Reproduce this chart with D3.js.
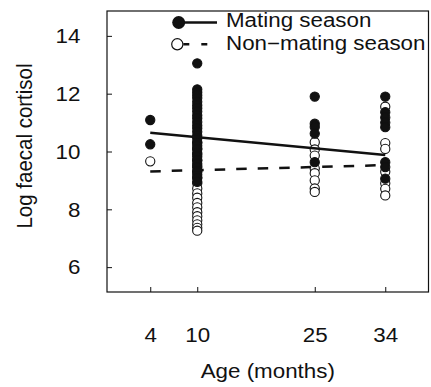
<!DOCTYPE html>
<html>
<head>
<meta charset="utf-8">
<script src="https://cdn.jsdelivr.net/npm/d3@7"></script>
<style>
  html, body { margin: 0; padding: 0; background: #fff; }
  text { font-family: "Liberation Sans", Arial, Helvetica, sans-serif; fill: #111; }
</style>
</head>
<body>
<svg id="chart" width="431" height="387"></svg>
<script>
// ---- data ----
const xTicks = [4, 10, 25, 34];
const yTicks = [6, 8, 10, 12, 14];
const xLabel = "Age (months)";
const yLabel = "Log faecal cortisol";
const legendLabels = ["Mating season", "Non\u2212mating season"];

// Mating season (filled circles)
const matingAge = [4, 4,
  10, 10, 10, 10, 10, 10, 10, 10, 10, 10, 10, 10, 10, 10, 10, 10, 10, 10, 10, 10, 10, 10, 10, 10, 10, 10, 10, 10, 10,
  25, 25, 25, 25, 25,
  34, 34, 34, 34, 34, 34, 34, 34];
const matingValue = [11.09, 10.25,
  13.05, 12.15, 12.05, 11.95, 11.85, 11.72, 11.6, 11.5, 11.38, 11.25, 11.15, 11.02, 10.9, 10.8, 10.68, 10.55, 10.45, 10.32, 10.2, 10.08, 9.95, 9.82, 9.7, 9.58, 9.45, 9.32, 9.2, 9.08, 8.95,
  11.9, 10.96, 10.85, 10.62, 9.63,
  11.9, 11.36, 11.18, 11.0, 10.84, 9.63, 9.46, 9.06];

// Non-mating season (open circles)
const nonMatingAge = [4,
  10, 10, 10, 10, 10, 10, 10, 10, 10, 10, 10, 10, 10, 10, 10, 10, 10, 10, 10,
  25, 25, 25, 25, 25, 25, 25, 25,
  34, 34, 34, 34, 34, 34, 34];
const nonMatingValue = [9.66,
  10.3, 10.1, 9.9, 9.7, 9.5, 9.3, 9.1, 8.9, 8.72, 8.55, 8.4, 8.22, 8.07, 7.9, 7.76, 7.62, 7.48, 7.36, 7.26,
  10.32, 10.07, 9.86, 9.41, 9.25, 9.0, 8.72, 8.6,
  11.55, 10.29, 10.09, 8.9, 8.71, 8.48, 9.3];

// Fitted regression lines (age, value at ends)
const matingFitAge = [4, 34];
const matingFitValue = [10.65, 9.88];
const nonMatingFitAge = [4, 34];
const nonMatingFitValue = [9.31, 9.53];

// ---- drawing ----
const svg = d3.select("#chart");
const pLeft = 107, pRight = 428.5, pTop = 11, pBottom = 292;

const x = d3.scaleLinear().domain([-1.52, 39.52]).range([pLeft, pRight]);
const y = d3.scaleLinear().domain([5.14, 14.86]).range([pBottom, pTop]);

const FS = 21;
const SX = 1.065; // horizontal stretch of the original figure's lettering

// axes (ticks inward)
const gx = svg.append("g").attr("transform", `translate(0,${pBottom})`)
  .call(d3.axisBottom(x).tickValues(xTicks).tickSize(-5).tickPadding(35).tickFormat(d3.format("d")));
const gy = svg.append("g").attr("transform", `translate(${pLeft},0)`)
  .call(d3.axisLeft(y).tickValues(yTicks).tickSize(-5).tickPadding(25).tickFormat(d3.format("d")));
[gx, gy].forEach(g => {
  g.select(".domain").remove();
  g.selectAll(".tick line").attr("stroke", "#111").attr("stroke-width", 1);
  g.selectAll(".tick text").attr("font-size", FS).attr("font-family", "Liberation Sans, Arial, sans-serif")
    .attr("fill", "#111").attr("transform", `scale(${SX},1)`);
});

// box
svg.append("rect").attr("x", pLeft).attr("y", pTop)
  .attr("width", pRight - pLeft).attr("height", pBottom - pTop)
  .attr("fill", "none").attr("stroke", "#111").attr("stroke-width", 1.2);

// axis titles
svg.append("text").attr("transform", `translate(${(pLeft + pRight) / 2},378) scale(${SX},1)`)
  .attr("text-anchor", "middle").attr("font-size", FS).text(xLabel);
svg.append("text").attr("transform", `translate(32,146) scale(${SX},1) rotate(-90)`)
  .attr("text-anchor", "middle").attr("font-size", 20.5).text(yLabel);

// points
const nonMating = nonMatingAge.map((a, i) => ({ a, v: nonMatingValue[i] }));
const mating = matingAge.map((a, i) => ({ a, v: matingValue[i] }));

svg.append("g").selectAll("circle").data(nonMating).join("circle")
  .attr("cx", d => x(d.a)).attr("cy", d => y(d.v)).attr("r", 4.6)
  .attr("fill", "#fff").attr("stroke", "#111").attr("stroke-width", 1.1);
svg.append("g").selectAll("circle").data(mating).join("circle")
  .attr("cx", d => x(d.a)).attr("cy", d => y(d.v)).attr("r", 4.6)
  .attr("fill", "#111").attr("stroke", "#111").attr("stroke-width", 1.1);

// fit lines
const line = d3.line().x(d => x(d[0])).y(d => y(d[1]));
svg.append("path").datum(matingFitAge.map((a, i) => [a, matingFitValue[i]]))
  .attr("d", line).attr("fill", "none").attr("stroke", "#111").attr("stroke-width", 2.5);
svg.append("path").datum(nonMatingFitAge.map((a, i) => [a, nonMatingFitValue[i]]))
  .attr("d", line).attr("fill", "none").attr("stroke", "#111").attr("stroke-width", 2.5)
  .attr("stroke-dasharray", "10.5,11");

// legend
const LFS = 19.8;
const LSX = SX * FS / LFS;
const lg = svg.append("g");
lg.append("line").attr("x1", 179).attr("x2", 217).attr("y1", 22.5).attr("y2", 22.5)
  .attr("stroke", "#111").attr("stroke-width", 2.5);
lg.append("circle").attr("cx", 178.7).attr("cy", 22.5).attr("r", 6.5).attr("fill", "#111");
lg.append("line").attr("x1", 183.3).attr("x2", 217).attr("y1", 44.3).attr("y2", 44.3)
  .attr("stroke", "#111").attr("stroke-width", 2.5).attr("stroke-dasharray", "6,12");
lg.append("circle").attr("cx", 177.3).attr("cy", 44.3).attr("r", 5.6)
  .attr("fill", "#fff").attr("stroke", "#111").attr("stroke-width", 1.2);
lg.append("text").attr("transform", `translate(226,27.4) scale(${LSX},1)`).attr("font-size", LFS).text(legendLabels[0]);
lg.append("text").attr("transform", `translate(226,49.7) scale(${LSX},1)`).attr("font-size", LFS).text(legendLabels[1]);
</script>
</body>
</html>
